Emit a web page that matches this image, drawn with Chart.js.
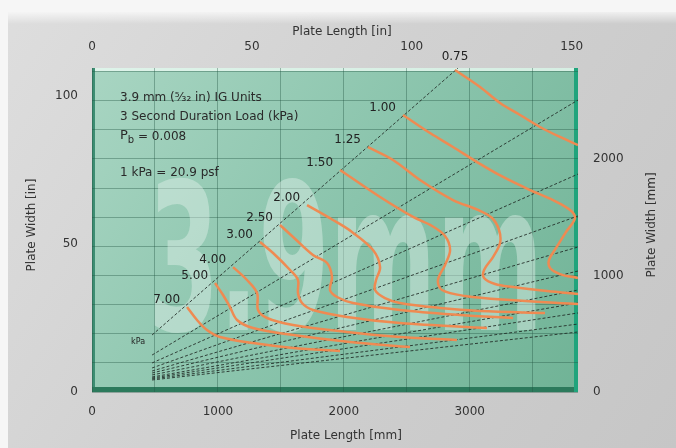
<!DOCTYPE html>
<html>
<head>
<meta charset="utf-8">
<script src="https://cdn.jsdelivr.net/npm/chart.js@4.4.1/dist/chart.umd.min.js"></script>
<style>
    html, body { margin: 0; padding: 0; background: #fff; }
    canvas { display: block; }
</style>
</head>
<body>
<canvas id="grafico" width="676" height="448"></canvas>
<script>
// limites dos eixos (mm)
const XMAX = 3860;
const YMAX = 2780;
const MM_POR_POL = 25.4;

// ticks / grade
const gradeX = [0, 500, 1000, 1500, 2000, 2500, 3000, 3500];
const gradeY = [0, 250, 500, 750, 1000, 1250, 1500, 1750, 2000, 2250, 2500, 2750];
const ticksPolX = [0, 50, 100, 150];
const ticksPolY = [0, 50, 100];

// cargas (kPa) de cada curva
const cargas = ['0.75', '1.00', '1.25', '1.50', '2.00', '2.50', '3.00', '4.00', '5.00', '7.00'];

// curvas [comprimento mm, largura mm]
const curva075 = [[2883, 2763], [3082, 2617], [3241, 2480], [3400, 2377], [3558, 2274], [3717, 2188], [3860, 2119]];
const curva100 = [[2470, 2377], [2685, 2222], [2867, 2102], [3058, 1973], [3265, 1845], [3479, 1733], [3662, 1647], [3797, 1562], [3836, 1493], [3765, 1373], [3686, 1236], [3630, 1133], [3638, 1064], [3717, 1012], [3860, 978]];
const curva125 = [[2192, 2102], [2391, 1991], [2605, 1819], [2867, 1647], [3066, 1562], [3177, 1493], [3233, 1390], [3241, 1278], [3185, 1158], [3114, 1047], [3114, 978], [3201, 927], [3344, 901], [3614, 866], [3860, 841]];
const curva150 = [[1970, 1905], [2288, 1673], [2550, 1502], [2701, 1424], [2804, 1338], [2844, 1218], [2804, 1090], [2748, 961], [2780, 875], [2963, 824], [3320, 789], [3860, 755]];
const curva200 = [[1708, 1604], [1914, 1476], [2065, 1373], [2232, 1218], [2288, 1072], [2256, 961], [2248, 875], [2327, 806], [2446, 764], [2764, 721], [3082, 695], [3598, 678]];
const curva250 = [[1493, 1433], [1597, 1330], [1755, 1175], [1867, 1107], [1906, 987], [1890, 875], [1946, 815], [2073, 764], [2446, 704], [2923, 661], [3344, 635]];
const curva300 = [[1334, 1287], [1438, 1193], [1573, 1047], [1636, 961], [1636, 849], [1668, 764], [1755, 704], [2025, 644], [2446, 592], [3137, 549]];
const curva400 = [[1120, 1072], [1231, 961], [1311, 849], [1319, 704], [1390, 635], [1597, 575], [2025, 515], [2446, 472], [2899, 446]];
const curva500 = [[977, 935], [1041, 832], [1096, 729], [1152, 618], [1279, 549], [1597, 489], [2049, 429], [2526, 386]];
const curva700 = [[755, 729], [834, 618], [913, 532], [1017, 472], [1279, 420], [1597, 378], [1970, 352]];

const curvas = [curva075, curva100, curva125, curva150, curva200, curva250, curva300, curva400, curva500, curva700];

// linhas de proporcao (tracejadas): inicio e fim em mm
const raioInicio = [[477, 489], [477, 317], [477, 249], [477, 206], [477, 180], [477, 163], [477, 146], [477, 129], [477, 120], [477, 112], [477, 103]];
const raioFim = [[2907, 2780], [3860, 2505], [3860, 1870], [3860, 1510], [3860, 1244], [3860, 1038], [3860, 875], [3860, 764], [3860, 678], [3860, 583], [3860, 515]];

const FONTE = '"DejaVu Sans"';
const corGrade = 'rgba(35, 85, 65, 0.38)';
const corTexto = '#333';

const datasets = [];
curvas.forEach((c, i) => {
    datasets.push({
        label: cargas[i] + ' kPa',
        data: c.map(p => ({ x: p[0], y: p[1] })),
        showLine: true,
        borderColor: '#ef8a52',
        borderWidth: 2.5,
        pointRadius: 0,
        tension: 0.35,
        fill: false
    });
});
raioInicio.forEach((p, i) => {
    datasets.push({
        label: 'raio ' + i,
        data: [{ x: p[0], y: p[1] }, { x: raioFim[i][0], y: raioFim[i][1] }],
        showLine: true,
        borderColor: 'rgba(30, 40, 35, 0.85)',
        borderWidth: 1,
        borderDash: [3, 2],
        pointRadius: 0,
        tension: 0
    });
});

// fundo cinza + area verde
const fundo = {
    id: 'fundo',
    beforeDraw(chart) {
        const { ctx, chartArea: a, width, height } = chart;
        ctx.save();
        ctx.fillStyle = '#f6f6f6';
        ctx.fillRect(0, 0, width, height);
        const g = ctx.createLinearGradient(0, 0, width, height);
        g.addColorStop(0, '#dedede');
        g.addColorStop(0.45, '#d1d1d1');
        g.addColorStop(1, '#c6c6c6');
        ctx.fillStyle = g;
        ctx.fillRect(8, 12, width - 8, height - 12);
        const topo = ctx.createLinearGradient(0, 12, 0, 24);
        topo.addColorStop(0, 'rgba(255,255,255,0.7)');
        topo.addColorStop(1, 'rgba(255,255,255,0)');
        ctx.fillStyle = topo;
        ctx.fillRect(8, 12, width - 8, 12);

        const v = ctx.createLinearGradient(a.left, a.top, a.right, a.bottom);
        v.addColorStop(0, '#a8d5c2');
        v.addColorStop(0.5, '#8ac4ac');
        v.addColorStop(1, '#70b396');
        ctx.fillStyle = v;
        ctx.fillRect(a.left, a.top, a.right - a.left, a.bottom - a.top);

        // bordas
        ctx.fillStyle = 'rgba(235, 250, 243, 0.8)';
        ctx.fillRect(a.left, a.top, a.right - a.left, 3);
        ctx.fillStyle = '#3d8d72';
        ctx.fillRect(a.left, a.top, 3, a.bottom - a.top);
        ctx.fillStyle = '#2c7a5c';
        ctx.fillRect(a.left, a.bottom - 5, a.right - a.left, 5);
        ctx.fillStyle = '#20a47c';
        ctx.fillRect(a.right - 4, a.top, 4, a.bottom - a.top);
        ctx.restore();
    },
    beforeDatasetsDraw(chart) {
        const { ctx, chartArea: a } = chart;
        ctx.save();
        ctx.beginPath();
        ctx.rect(a.left, a.top, a.right - a.left, a.bottom - a.top);
        ctx.clip();
        ctx.translate(a.left + 56, a.bottom - 62);
        ctx.scale(0.5, 1);
        ctx.font = 'bold 205px ' + FONTE;
        ctx.fillStyle = 'rgba(232, 244, 238, 0.42)';
        ctx.textBaseline = 'alphabetic';
        ctx.fillText('3.9mm', 0, 0);
        ctx.restore();
    },
    afterDatasetsDraw(chart) {
        const { ctx, chartArea: a, scales } = chart;
        ctx.save();
        ctx.fillStyle = '#2a2a2a';
        ctx.textBaseline = 'middle';
        ctx.textAlign = 'left';
        const tx = a.left + 28;
        ctx.font = '12px ' + FONTE;
        ctx.fillText('3.9 mm (\u2075\u2044\u2083\u2082 in) IG Units', tx, a.top + 30);
        ctx.fillText('3 Second Duration Load (kPa)', tx, a.top + 49);
        ctx.font = '13px ' + FONTE;
        ctx.fillText('P', tx, a.top + 68);
        let w = ctx.measureText('P').width;
        ctx.font = '10px ' + FONTE;
        ctx.fillText('b', tx + w, a.top + 72);
        w += ctx.measureText('b').width;
        ctx.font = '12px ' + FONTE;
        ctx.fillText(' = 0.008', tx + w, a.top + 69);
        ctx.fillText('1 kPa = 20.9 psf', tx, a.top + 105);

        // rotulos das curvas
        ctx.font = '12px ' + FONTE;
        ctx.fillStyle = '#222';
        curvas.forEach((c, i) => {
            const px = scales.x.getPixelForValue(c[0][0]);
            const py = scales.y.getPixelForValue(c[0][1]);
            if (py < a.top + 6) {
                ctx.textAlign = 'center';
                ctx.fillText(cargas[i], px, py - 13);
            } else {
                ctx.textAlign = 'right';
                ctx.fillText(cargas[i], px - 7, py - 7);
            }
        });
        const kx = scales.x.getPixelForValue(raioInicio[0][0]);
        const ky = scales.y.getPixelForValue(raioInicio[0][1]);
        ctx.font = '8px ' + FONTE;
        ctx.textAlign = 'center';
        ctx.fillText('kPa', kx - 14, ky + 7);
        ctx.restore();
    },
    afterDraw(chart) {
        const { ctx, chartArea: a } = chart;
        ctx.save();
        ctx.font = '12px ' + FONTE;
        ctx.fillStyle = corTexto;
        ctx.textAlign = 'center';
        ctx.textBaseline = 'middle';
        const meio = (a.left + a.right) / 2;
        ctx.fillText('Plate Length [in]', meio + 7, 32);
        ctx.fillText('Plate Length [mm]', meio + 11, 436);
        ctx.translate(32, 225);
        ctx.rotate(-Math.PI / 2);
        ctx.fillText('Plate Width [in]', 0, 0);
        ctx.restore();
        ctx.save();
        ctx.font = '12px ' + FONTE;
        ctx.fillStyle = corTexto;
        ctx.textAlign = 'center';
        ctx.textBaseline = 'middle';
        ctx.translate(652, 225);
        ctx.rotate(-Math.PI / 2);
        ctx.fillText('Plate Width [mm]', 0, 0);
        ctx.restore();
    }
};

const fonteTicks = { family: FONTE, size: 12 };
const fixarTicks = lista => s => { s.ticks = lista.map(v => ({ value: v })); };

new Chart(document.getElementById('grafico'), {
    type: 'scatter',
    data: { datasets },
    options: {
        responsive: false,
        animation: false,
        devicePixelRatio: 1,
        layout: { padding: 0 },
        plugins: {
            legend: { display: false },
            tooltip: { enabled: false }
        },
        scales: {
            x: {
                type: 'linear', position: 'bottom', min: 0, max: XMAX,
                afterBuildTicks: fixarTicks(gradeX),
                afterFit: s => { s.height = 56; },
                grid: { color: corGrade, drawTicks: false },
                border: { display: false },
                ticks: {
                    padding: 13, color: corTexto, font: fonteTicks,
                    autoSkip: false, maxRotation: 0,
                    callback: v => v % 1000 === 0 ? v : ''
                }
            },
            xIn: {
                type: 'linear', position: 'top', min: 0, max: XMAX / MM_POR_POL,
                afterBuildTicks: fixarTicks(ticksPolX),
                afterFit: s => { s.height = 68; },
                grid: { display: false, drawTicks: false },
                border: { display: false },
                ticks: { padding: 14, color: corTexto, font: fonteTicks, autoSkip: false, maxRotation: 0 }
            },
            y: {
                type: 'linear', position: 'right', min: 0, max: YMAX,
                afterBuildTicks: fixarTicks(gradeY),
                afterFit: s => { s.width = 98; },
                grid: { color: corGrade, drawTicks: false },
                border: { display: false },
                ticks: {
                    padding: 15, color: corTexto, font: fonteTicks, autoSkip: false,
                    callback: v => v % 1000 === 0 ? v : ''
                }
            },
            yIn: {
                type: 'linear', position: 'left', min: 0, max: YMAX / MM_POR_POL,
                afterBuildTicks: fixarTicks(ticksPolY),
                afterFit: s => { s.width = 92; },
                grid: { display: false, drawTicks: false },
                border: { display: false },
                ticks: { padding: 14, color: corTexto, font: fonteTicks, autoSkip: false }
            }
        }
    },
    plugins: [fundo]
});
</script>
</body>
</html>
